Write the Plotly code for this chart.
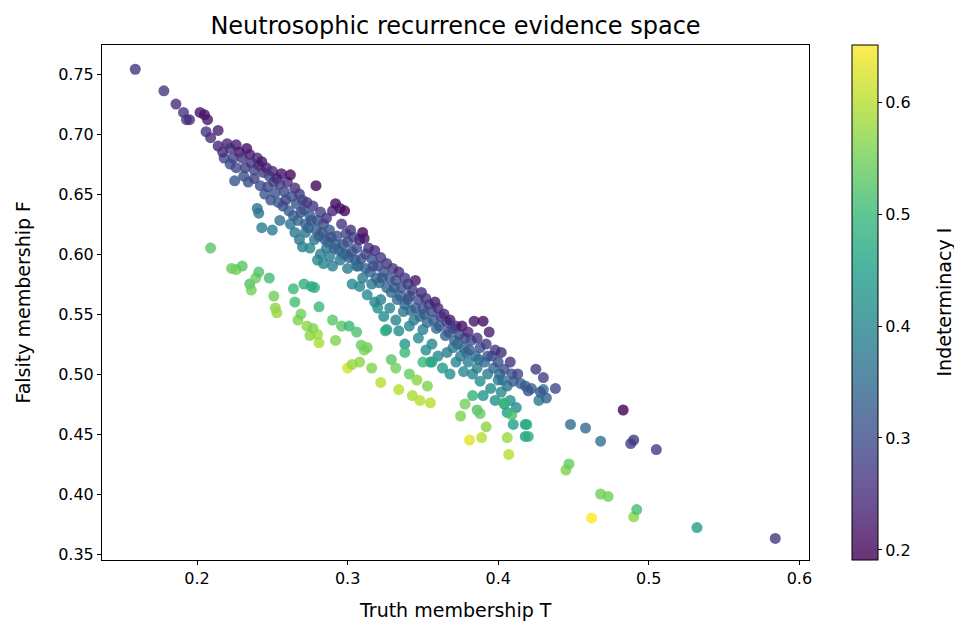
import plotly.graph_objects as go
import plotly.colors as pc

# Upper (purple/blue) band: truth T, falsity F, indeterminacy I
T_upper = [0.159,0.178,0.186,0.191,0.193,0.195,0.202,0.205,0.207,0.206,0.209,0.214,0.214,0.217,0.220,0.222,0.224,0.225,0.226,0.228,
           0.230,0.232,0.233,0.235,0.236,0.238,0.240,0.241,0.243,0.244,0.246,0.248,0.250,0.251,0.252,0.253,0.255,0.256,0.258,0.260,
           0.262,0.263,0.265,0.266,0.268,0.270,0.271,0.273,0.275,0.277,0.279,0.280,0.282,0.284,0.286,0.288,0.290,0.292,0.293,0.295,
           0.296,0.298,0.299,0.300,0.302,0.304,0.306,0.308,0.310,0.311,0.312,0.314,0.316,0.318,0.320,0.322,0.324,0.326,0.328,0.330,
           0.332,0.334,0.336,0.338,0.340,0.341,0.343,0.345,0.347,0.349,0.350,0.352,0.354,0.356,0.358,0.360,0.362,0.364,0.366,0.368,
           0.370,0.372,0.374,0.376,0.378,0.380,0.382,0.384,0.386,0.388,0.390,0.392,0.394,0.396,0.398,0.400,0.402,0.404,0.408,0.410,
           0.413,0.418,0.420,0.425,0.428,0.430,0.432,0.438,0.448,0.458,0.468,0.483,0.488,0.490,0.505,0.532,0.584]
F_upper = [0.754,0.736,0.725,0.718,0.712,0.712,0.718,0.716,0.712,0.702,0.697,0.703,0.690,0.685,0.692,0.688,0.680,0.661,0.691,0.685,
           0.680,0.672,0.688,0.683,0.676,0.670,0.680,0.674,0.677,0.668,0.672,0.665,0.669,0.660,0.651,0.663,0.658,0.667,0.652,0.660,
           0.666,0.648,0.655,0.642,0.650,0.645,0.637,0.643,0.632,0.640,0.657,0.628,0.635,0.625,0.630,0.620,0.636,0.642,0.615,0.638,
           0.625,0.636,0.617,0.610,0.620,0.614,0.605,0.612,0.618,0.613,0.600,0.605,0.596,0.603,0.590,0.597,0.585,0.592,0.580,0.588,
           0.578,0.585,0.572,0.580,0.575,0.565,0.570,0.578,0.562,0.568,0.555,0.563,0.558,0.552,0.560,0.555,0.548,0.550,0.543,0.545,
           0.538,0.540,0.533,0.540,0.530,0.535,0.528,0.544,0.530,0.522,0.544,0.525,0.535,0.515,0.520,0.510,0.518,0.504,0.510,0.494,
           0.500,0.490,0.486,0.504,0.485,0.497,0.480,0.488,0.458,0.455,0.444,0.470,0.442,0.445,0.437,0.372,0.363]
I_upper = [0.26,0.27,0.25,0.26,0.27,0.25,0.22,0.21,0.22,0.26,0.25,0.23,0.24,0.25,0.24,0.26,0.28,0.31,0.23,0.22,
           0.27,0.28,0.21,0.23,0.26,0.29,0.24,0.25,0.22,0.27,0.23,0.29,0.25,0.28,0.31,0.24,0.28,0.22,0.29,0.26,
           0.20,0.30,0.25,0.31,0.27,0.29,0.31,0.26,0.32,0.27,0.20,0.31,0.28,0.30,0.26,0.32,0.24,0.20,0.31,0.22,
           0.26,0.20,0.29,0.31,0.26,0.28,0.30,0.25,0.20,0.22,0.29,0.26,0.31,0.25,0.30,0.27,0.31,0.26,0.32,0.27,
           0.30,0.25,0.31,0.27,0.28,0.31,0.27,0.22,0.30,0.25,0.31,0.26,0.28,0.31,0.22,0.25,0.28,0.24,0.29,0.22,
           0.30,0.26,0.30,0.21,0.29,0.24,0.30,0.22,0.26,0.31,0.21,0.27,0.23,0.30,0.27,0.31,0.25,0.31,0.26,0.32,
           0.29,0.33,0.31,0.27,0.31,0.28,0.33,0.29,0.35,0.35,0.36,0.19,0.28,0.27,0.27,0.45,0.27]

# Inner part of the upper band (blue)
T_inner = [0.218,0.222,0.226,0.231,0.234,0.238,0.242,0.245,0.247,0.249,0.254,0.257,0.259,0.261,0.264,0.267,0.269,0.272,0.274,0.276,
           0.279,0.281,0.283,0.285,0.287,0.289,0.291,0.294,0.297,0.299,0.301,0.303,0.305,0.307,0.309,0.312,0.315,0.317,0.319,0.321,
           0.323,0.326,0.329,0.331,0.333,0.335,0.338,0.340,0.342,0.345,0.348,0.351,0.353,0.357,0.359,0.361,0.365,0.367,0.371,0.373,
           0.377,0.379,0.381,0.385,0.387,0.391,0.393,0.397,0.401,0.403,0.406,0.409,0.415,0.422]
F_inner = [0.680,0.675,0.672,0.665,0.660,0.663,0.657,0.650,0.656,0.645,0.643,0.640,0.645,0.636,0.632,0.628,0.635,0.625,0.622,0.628,
           0.620,0.615,0.618,0.612,0.610,0.614,0.605,0.603,0.608,0.600,0.597,0.602,0.595,0.590,0.596,0.588,0.585,0.590,0.580,0.576,
           0.580,0.572,0.568,0.572,0.562,0.565,0.558,0.562,0.553,0.555,0.548,0.550,0.543,0.545,0.538,0.540,0.532,0.535,0.528,0.525,
           0.522,0.518,0.520,0.515,0.512,0.510,0.515,0.505,0.500,0.495,0.490,0.500,0.492,0.488]
I_inner = [0.29,0.30,0.29,0.30,0.31,0.28,0.30,0.32,0.29,0.31,0.32,0.30,0.28,0.33,0.33,0.34,0.31,0.33,0.34,0.31,
           0.33,0.34,0.31,0.33,0.35,0.30,0.33,0.34,0.31,0.34,0.33,0.30,0.33,0.35,0.31,0.33,0.34,0.30,0.34,0.35,
           0.32,0.34,0.35,0.32,0.35,0.33,0.34,0.31,0.35,0.33,0.35,0.32,0.35,0.33,0.35,0.32,0.34,0.31,0.34,0.35,
           0.34,0.36,0.33,0.35,0.36,0.35,0.32,0.34,0.35,0.36,0.37,0.31,0.33,0.34]

# Middle (teal) band
T_mid = [0.240,0.241,0.243,0.250,0.255,0.262,0.265,0.268,0.270,0.272,0.275,0.278,0.280,0.282,0.284,0.286,0.288,0.290,0.292,0.295,
         0.297,0.300,0.303,0.306,0.308,0.310,0.313,0.316,0.318,0.320,0.322,0.324,0.326,0.328,0.332,0.334,0.337,0.338,0.341,0.344,
         0.347,0.350,0.352,0.355,0.356,0.360,0.363,0.366,0.368,0.370,0.372,0.375,0.377,0.380,0.383,0.386,0.388,0.390,0.393,0.395,
         0.398,0.400,0.402,0.404,0.406,0.408,0.410,0.412,0.418,0.418,0.427,0.430]
F_mid = [0.638,0.634,0.622,0.620,0.628,0.625,0.618,0.612,0.606,0.618,0.605,0.612,0.595,0.600,0.592,0.605,0.598,0.590,0.608,0.595,
         0.600,0.588,0.575,0.590,0.573,0.580,0.566,0.575,0.560,0.555,0.562,0.548,0.537,0.555,0.545,0.536,0.552,0.525,0.540,0.545,
         0.530,0.537,0.520,0.510,0.525,0.515,0.505,0.518,0.500,0.522,0.510,0.515,0.502,0.510,0.500,0.505,0.494,0.482,0.500,0.488,
         0.478,0.495,0.485,0.475,0.468,0.478,0.458,0.472,0.458,0.448,0.478,0.487]
I_mid = [0.36,0.37,0.38,0.38,0.36,0.36,0.37,0.38,0.39,0.36,0.40,0.37,0.40,0.39,0.40,0.37,0.38,0.39,0.36,0.37,
         0.36,0.38,0.41,0.36,0.40,0.38,0.41,0.37,0.40,0.42,0.39,0.41,0.43,0.40,0.39,0.41,0.37,0.43,0.40,0.38,
         0.41,0.39,0.42,0.43,0.40,0.41,0.44,0.39,0.42,0.38,0.40,0.38,0.41,0.39,0.40,0.39,0.42,0.43,0.38,0.41,
         0.42,0.38,0.41,0.43,0.44,0.42,0.45,0.41,0.43,0.44,0.38,0.36]

# Lower (green/yellow) band
T_low = [0.209,0.223,0.226,0.230,0.235,0.236,0.239,0.241,0.248,0.251,0.252,0.253,0.264,0.265,0.267,0.269,0.271,0.273,0.275,0.276,
         0.277,0.278,0.280,0.281,0.281,0.290,0.292,0.296,0.300,0.301,0.303,0.306,0.308,0.309,0.311,0.313,0.316,0.322,0.325,0.329,
         0.332,0.334,0.338,0.341,0.343,0.346,0.348,0.350,0.353,0.355,0.356,0.375,0.378,0.381,0.383,0.386,0.388,0.389,0.392,0.404,
         0.406,0.407,0.409,0.419,0.420,0.445,0.447,0.462,0.468,0.473,0.490,0.492]
F_low = [0.605,0.588,0.587,0.590,0.575,0.570,0.580,0.585,0.580,0.565,0.555,0.551,0.571,0.560,0.545,0.550,0.575,0.540,0.532,0.573,
         0.538,0.572,0.533,0.526,0.556,0.545,0.528,0.540,0.505,0.540,0.508,0.535,0.510,0.524,0.520,0.522,0.505,0.493,0.536,0.512,
         0.505,0.487,0.518,0.500,0.482,0.495,0.478,0.510,0.490,0.476,0.510,0.465,0.475,0.445,0.482,0.470,0.467,0.447,0.456,0.476,
         0.447,0.433,0.466,0.458,0.448,0.420,0.425,0.380,0.400,0.398,0.381,0.387]
I_low = [0.53,0.54,0.55,0.53,0.52,0.55,0.55,0.52,0.51,0.55,0.57,0.58,0.50,0.51,0.56,0.55,0.48,0.57,0.57,0.47,
         0.56,0.48,0.58,0.59,0.50,0.53,0.56,0.53,0.62,0.50,0.58,0.52,0.57,0.54,0.56,0.55,0.56,0.60,0.48,0.53,
         0.55,0.60,0.50,0.54,0.59,0.57,0.60,0.50,0.56,0.60,0.47,0.56,0.55,0.63,0.49,0.52,0.54,0.60,0.57,0.50,
         0.58,0.60,0.51,0.48,0.48,0.56,0.54,0.65,0.55,0.55,0.57,0.51]

T = T_mid + T_low + T_inner + T_upper
F = F_mid + F_low + F_inner + F_upper
I = I_mid + I_low + I_inner + I_upper

I_MIN, I_MAX = 0.191, 0.651
ALPHA = 0.8

# colorbar drawn with the same transparency as the markers (blended over white)
def blend(hexcol):
    r, g, b = pc.hex_to_rgb(hexcol)
    f = lambda c: round(ALPHA * c + (1 - ALPHA) * 255)
    return f"rgb({f(r)},{f(g)},{f(b)})"

vir = pc.sequential.Viridis
cb_scale = [[i / (len(vir) - 1), blend(c)] for i, c in enumerate(vir)]

fig = go.Figure()
fig.add_trace(go.Scatter(
    x=T, y=F, mode="markers",
    marker=dict(size=11, color=I, colorscale="Viridis", cmin=I_MIN, cmax=I_MAX,
                opacity=ALPHA, line=dict(width=0), showscale=False),
    showlegend=False, hoverinfo="x+y"))

# invisible trace only to carry the colorbar
fig.add_trace(go.Scatter(
    x=[T[0]], y=[F[0]], mode="markers", visible=True, hoverinfo="skip", showlegend=False,
    marker=dict(size=0.1, opacity=0, color=[I_MIN], colorscale=cb_scale, cmin=I_MIN, cmax=I_MAX,
                colorbar=dict(
                    x=1.061, xanchor="left", xpad=0, y=0.5, yanchor="middle", ypad=0, len=1, lenmode="fraction",
                    thickness=26, outlinewidth=1, outlinecolor="black",
                    tickvals=[0.2, 0.3, 0.4, 0.5, 0.6], ticktext=["0.2", "0.3", "0.4", "0.5", "0.6"],
                    ticks="outside", ticklen=4, tickcolor="black",
                    tickfont=dict(size=16, color="black")))))

axis_common = dict(showgrid=False, zeroline=False, showline=True, linecolor="black", linewidth=1, mirror=True,
                   ticks="outside", ticklen=4, tickcolor="black", tickfont=dict(size=16, color="black"))

fig.update_layout(
    width=954, height=622,
    margin=dict(l=102, r=145, t=45, b=62),
    paper_bgcolor="white", plot_bgcolor="white",
    font=dict(family="DejaVu Sans", color="black"),
    title=dict(text="Neutrosophic recurrence evidence space", x=(102 + 809) / 2 / 954, xanchor="center",
               y=1 - 26 / 622, yanchor="middle", font=dict(size=24, color="black")),
    xaxis=dict(range=[0.1369, 0.6064], tickvals=[0.2, 0.3, 0.4, 0.5, 0.6], ticktext=["0.2", "0.3", "0.4", "0.5", "0.6"],
               **axis_common),
    yaxis=dict(range=[0.3450, 0.7742], tickvals=[0.35, 0.40, 0.45, 0.50, 0.55, 0.60, 0.65, 0.70, 0.75],
               ticktext=["0.35", "0.40", "0.45", "0.50", "0.55", "0.60", "0.65", "0.70", "0.75"],
               **axis_common),
    annotations=[
        dict(text="Truth membership T", xref="paper", yref="paper", x=0.5, y=0, xanchor="center", yanchor="middle",
             yshift=-50, showarrow=False, font=dict(size=19, color="black")),
        dict(text="Falsity membership F", xref="paper", yref="paper", x=0, y=0.5, xanchor="center", yanchor="middle",
             xshift=-80, textangle=-90, showarrow=False, font=dict(size=19, color="black")),
        dict(text="Indeterminacy I", xref="paper", yref="paper", x=(943 - 102) / 707, y=0.5, xanchor="center",
             yanchor="middle", textangle=-90, showarrow=False, font=dict(size=19, color="black")),
    ],
)

fig.write_html("out.html")
